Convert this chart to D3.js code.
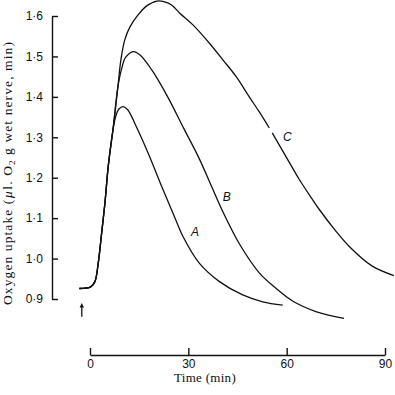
<!DOCTYPE html>
<html>
<head>
<meta charset="utf-8">
<script src="https://cdn.jsdelivr.net/npm/d3@7"></script>
<style>
  html, body { margin: 0; padding: 0; background: #fff; }
  svg { display: block; }
</style>
</head>
<body>
<svg id="chart" width="395" height="395"></svg>
<script>
// values: time in min, uptake in µl O2 / g wet nerve / min
const xTicks = [0, 30, 60, 90];
const yTicks = [0.9, 1.0, 1.1, 1.2, 1.3, 1.4, 1.5, 1.6];

// shared baseline + initial rise (all three curves coincide here)
const riseT = [-3.25, 0.2, 1.5, 2.5, 3.55, 4.55, 5.6, 7.0];
const riseV = [0.926, 0.930, 0.943, 0.988, 1.063, 1.137, 1.231, 1.318];

const aT = [7.9, 8.8, 10.1, 11.5, 14.6, 18.2, 22.3, 24.8, 26.4, 28.4, 33.4, 39.5, 46.6, 52.7, 58.8];
const aV = [1.353, 1.370, 1.376, 1.368, 1.318, 1.252, 1.170, 1.122, 1.091, 1.054, 0.988, 0.943, 0.910, 0.893, 0.885];

const bT = [8.5, 9.7, 10.9, 13.2, 15.2, 18.9, 23.7, 28.6, 33.4, 37.0, 40.0, 41.6, 45.6, 51.7, 56.8, 61.8, 68.9, 77.5];
const bV = [1.424, 1.471, 1.498, 1.512, 1.504, 1.466, 1.400, 1.322, 1.246, 1.180, 1.125, 1.098, 1.036, 0.964, 0.926, 0.895, 0.869, 0.852];

// null marks the small break in C where its label sits
const cT = [8.5, 9.4, 10.6, 12.2, 14.6, 17.3, 20.4, 22.8, 24.9, 27.4, 31.4, 36.5, 40.6, 44.6, 48.6, 51.7, 54.7, null, 55.6, 61.3, 63.9, 67.8, 69.9, 75.0, 79.1, 86.0, 92.7];
const cV = [1.424, 1.490, 1.541, 1.573, 1.602, 1.625, 1.637, 1.635, 1.627, 1.607, 1.578, 1.532, 1.491, 1.450, 1.400, 1.362, 1.323, null, 1.311, 1.231, 1.195, 1.147, 1.122, 1.068, 1.030, 0.982, 0.958];

const curveNames = ["A", "B", "C"];
const labelT = [32.0, 41.7, 60.2];
const labelV = [1.066, 1.152, 1.301];

const stimulusT = -2.5;          // the arrow under the baseline
const stimulusV = [0.856, 0.890];

const svg = d3.select("#chart");
const ink = "#111";

const x = d3.scaleLinear().domain([0, 90]).range([90, 385]);
const y = d3.scaleLinear().domain([0.9, 1.6]).range([299, 16]);

const fmtY = v => d3.format(".1f")(v).replace(".", "\u00b7");

// y axis: ticks point inward (right), labels on the left
svg.append("g")
  .attr("transform", "translate(52,0)")
  .call(d3.axisLeft(y).tickValues(yTicks).tickFormat(fmtY)
    .tickSizeInner(-6).tickSizeOuter(0).tickPadding(9));

// x axis is drawn apart, below the plot; ticks point up
svg.append("g")
  .attr("transform", "translate(0,355)")
  .call(d3.axisBottom(x).tickValues(xTicks).tickFormat(d3.format("d"))
    .tickSizeInner(-7).tickSizeOuter(0).tickPadding(4));

svg.selectAll(".domain, .tick line").attr("stroke", ink).attr("stroke-width", 1.4);
svg.selectAll(".tick text")
  .attr("fill", ink)
  .attr("font-family", "Liberation Sans, Arial, sans-serif")
  .attr("font-size", 12);

// axis titles
svg.append("text")
  .attr("x", 205).attr("y", 382)
  .attr("text-anchor", "middle")
  .attr("font-family", "Liberation Serif, Times New Roman, serif")
  .attr("font-size", 13)
  .attr("letter-spacing", 0.3)
  .attr("fill", ink)
  .text("Time (min)");

const yl = svg.append("text")
  .attr("transform", "translate(12,173) rotate(-90)")
  .attr("text-anchor", "middle")
  .attr("font-family", "Liberation Serif, Times New Roman, serif")
  .attr("font-size", 13.5)
  .attr("letter-spacing", 1.1)
  .attr("fill", ink);
yl.append("tspan").text("Oxygen uptake (");
yl.append("tspan").attr("font-style", "italic").text("\u00b5");
yl.append("tspan").text("l. O");
yl.append("tspan").attr("font-size", 9).attr("dy", 3).text("2");
yl.append("tspan").attr("dy", -3).text(" g wet nerve, min)");

// curves
const toPts = (ts, vs) => ts.map((t, i) => ({ t, v: vs[i] }));
const rise = toPts(riseT, riseV);
const series = [
  rise.concat(toPts(aT, aV)),
  rise.concat(toPts(bT, bV)),
  rise.concat(toPts(cT, cV))
];

const line = d3.line()
  .defined(d => d.t != null && d.v != null)
  .x(d => x(d.t))
  .y(d => y(d.v))
  .curve(d3.curveCatmullRom.alpha(0.5));

svg.append("g")
  .selectAll("path")
  .data(series)
  .join("path")
  .attr("d", line)
  .attr("fill", "none")
  .attr("stroke", ink)
  .attr("stroke-width", 1.3)
  .attr("stroke-linejoin", "round");

svg.append("g")
  .selectAll("text")
  .data(curveNames)
  .join("text")
  .attr("x", (d, i) => x(labelT[i]))
  .attr("y", (d, i) => y(labelV[i]))
  .attr("dy", "0.35em")
  .attr("text-anchor", "middle")
  .attr("font-family", "Liberation Sans, Arial, sans-serif")
  .attr("font-style", "italic")
  .attr("font-size", 12)
  .attr("fill", ink)
  .text(d => d);

// stimulus arrow
const ax = x(stimulusT);
const ayTop = y(stimulusV[1]);
const ayBot = y(stimulusV[0]);
svg.append("line")
  .attr("x1", ax).attr("x2", ax)
  .attr("y1", ayTop + 3).attr("y2", ayBot)
  .attr("stroke", ink).attr("stroke-width", 1.3);
svg.append("path")
  .attr("d", `M${ax - 2.2},${ayTop + 4.5} L${ax},${ayTop} L${ax + 2.2},${ayTop + 4.5} Z`)
  .attr("fill", ink);
</script>
</body>
</html>
